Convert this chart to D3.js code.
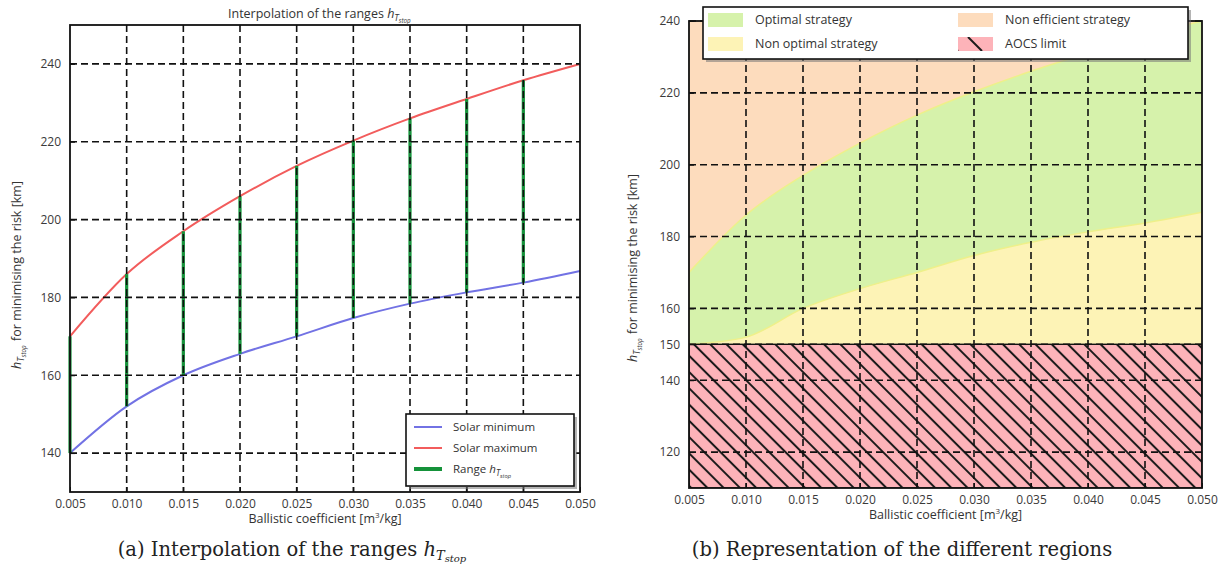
<!DOCTYPE html>
<html>
<head>
<meta charset="utf-8">
<script src="https://cdn.jsdelivr.net/npm/d3@7"></script>
<style>
  body { margin: 0; background: #fff; }
  svg { display: block; }
  .tick text { font-family: "Open Sans", sans-serif; font-size: 12px; fill: #3a3a3a; }
  .lbl { font-family: "Open Sans", sans-serif; font-size: 12.5px; fill: #333; }
  .cap { font-family: "DejaVu Serif", serif; font-size: 19.5px; fill: #222; }
</style>
</head>
<body>
<script>
// data
var betas      = [0.005, 0.010, 0.015, 0.020, 0.025, 0.030, 0.035, 0.040, 0.045, 0.050];
var solarMin   = [140, 152, 160, 165.5, 170, 174.7, 178.4, 181.3, 183.8, 186.8];
var solarMax   = [170, 186, 197, 206, 213.8, 220.3, 226, 231, 235.8, 240];
var rangeIdx   = [0, 1, 2, 3, 4, 5, 6, 7, 8];   // betas with a green range bar
var xTicks     = betas;
var yTicksLeft = [140, 160, 180, 200, 220, 240];
var yTicksRight = [120, 140, 150, 160, 180, 200, 220, 240];
var aocsLimit  = 150;

var svg = d3.select("body").append("svg")
    .attr("width", 1220).attr("height", 570);

var defs = svg.append("defs");
var hatch = defs.append("pattern")
    .attr("id", "hatch")
    .attr("patternUnits", "userSpaceOnUse")
    .attr("width", 11.5).attr("height", 11.5)
    .attr("patternTransform", "rotate(-45)");
hatch.append("rect").attr("width", 11.5).attr("height", 11.5).attr("fill", "#fdb3b9");
hatch.append("line").attr("x1", 5.75).attr("y1", -1).attr("x2", 5.75).attr("y2", 12.5)
    .attr("stroke", "#1a1a1a").attr("stroke-width", 2);

// legend patch: one diagonal stroke on pink
var hatchKey = defs.append("pattern")
    .attr("id", "hatchKey")
    .attr("patternUnits", "objectBoundingBox")
    .attr("width", 1).attr("height", 1);
hatchKey.append("rect").attr("width", 35).attr("height", 14).attr("fill", "#fdb3b9");
hatchKey.append("line").attr("x1", 10).attr("y1", 0).attr("x2", 24).attr("y2", 14)
    .attr("stroke", "#1a1a1a").attr("stroke-width", 2);
hatchKey.append("line").attr("x1", -4).attr("y1", 10).attr("x2", 0).attr("y2", 14)
    .attr("stroke", "#1a1a1a").attr("stroke-width", 2);

var pts = betas.map(function(b, i){ return {b: b, lo: solarMin[i], hi: solarMax[i]}; });

// h_{T_stop} as tspans
function hT(sel, size) {
  sel.append("tspan").attr("font-style", "italic").text("h");
  sel.append("tspan").attr("font-size", size * 0.72).attr("dy", size * 0.25).attr("font-style", "italic").text("T");
  sel.append("tspan").attr("font-size", size * 0.5).attr("dy", size * 0.15).attr("font-style", "italic").text("stop");
  sel.append("tspan").attr("dy", -size * 0.4).text("\u200a");
}

function grid(g, x, y, yTicks, x0, x1, y0, y1) {
  var gg = g.append("g").attr("stroke", "#111").attr("stroke-width", 1.6)
      .attr("stroke-dasharray", "7,4").attr("fill", "none");
  gg.selectAll(".vg").data(xTicks.slice(1, -1)).enter().append("line")
    .attr("x1", function(d){ return x(d); }).attr("x2", function(d){ return x(d); })
    .attr("y1", y0).attr("y2", y1);
  gg.selectAll(".hg").data(yTicks).enter().append("line")
    .attr("y1", function(d){ return y(d); }).attr("y2", function(d){ return y(d); })
    .attr("x1", x0).attr("x2", x1);
}

function axes(g, x, y, yTicks, x0, x1, y0, y1) {
  g.append("g").attr("transform", "translate(0," + y1 + ")")
    .call(d3.axisBottom(x).tickValues(xTicks).tickFormat(d3.format(".3f")).tickSize(-5).tickPadding(7))
    .call(function(a){ a.select(".domain").remove(); a.selectAll("line").attr("stroke", "#111"); });
  g.append("g").attr("transform", "translate(" + x0 + ",0)")
    .call(d3.axisLeft(y).tickValues(yTicks).tickFormat(d3.format("d")).tickSize(-5).tickPadding(9))
    .call(function(a){ a.select(".domain").remove(); a.selectAll("line").attr("stroke", "#111"); });
  g.append("rect").attr("x", x0).attr("y", y0).attr("width", x1 - x0).attr("height", y1 - y0)
    .attr("fill", "none").attr("stroke", "#111").attr("stroke-width", 1.8);
  g.append("text").attr("class", "lbl").attr("x", (x0 + x1) / 2).attr("y", y1 + 31)
    .attr("text-anchor", "middle")
    .call(function(t){
      t.append("tspan").text("Ballistic coefficient [m");
      t.append("tspan").attr("font-size", 8).attr("dy", -5).text("3");
      t.append("tspan").attr("dy", 5).text("/kg]");
    });
}

function legendBox(g, x, y, w, h) {
  g.append("rect").attr("x", x + 3).attr("y", y + 3).attr("width", w).attr("height", h)
    .attr("fill", "#777").attr("opacity", 0.55);
  g.append("rect").attr("x", x).attr("y", y).attr("width", w).attr("height", h)
    .attr("fill", "#fff").attr("stroke", "#111").attr("stroke-width", 1.6);
}

// ---------- left: interpolation of the ranges ----------
(function(){
  var x0 = 70, x1 = 580, y0 = 25, y1 = 492;
  var x = d3.scaleLinear().domain([0.005, 0.05]).range([x0, x1]);
  var y = d3.scaleLinear().domain([130, 250]).range([y1, y0]);
  var g = svg.append("g");

  var lineMin = d3.line().x(function(d){ return x(d.b); }).y(function(d){ return y(d.lo); }).curve(d3.curveMonotoneX);
  var lineMax = d3.line().x(function(d){ return x(d.b); }).y(function(d){ return y(d.hi); }).curve(d3.curveMonotoneX);

  g.append("path").datum(pts).attr("d", lineMin).attr("fill", "none")
    .attr("stroke", "#7272e4").attr("stroke-width", 2);
  g.append("path").datum(pts).attr("d", lineMax).attr("fill", "none")
    .attr("stroke", "#f25c5c").attr("stroke-width", 2);

  g.selectAll(".rng").data(rangeIdx.map(function(i){ return pts[i]; })).enter().append("line")
    .attr("x1", function(d){ return x(d.b); }).attr("x2", function(d){ return x(d.b); })
    .attr("y1", function(d){ return y(d.lo); }).attr("y2", function(d){ return y(d.hi); })
    .attr("stroke", "#15923a").attr("stroke-width", 3.2);

  grid(g, x, y, yTicksLeft, x0, x1, y0, y1);
  axes(g, x, y, yTicksLeft, x0, x1, y0, y1);

  g.append("text").attr("class", "lbl").attr("x", 320).attr("y", 18).attr("text-anchor", "middle")
    .call(function(t){ t.append("tspan").text("Interpolation of the ranges "); hT(t, 12.5); });

  g.append("text").attr("class", "lbl")
    .attr("transform", "translate(21,275) rotate(-90)").attr("text-anchor", "middle")
    .call(function(t){ hT(t, 12.5); t.append("tspan").text(" for minimising the risk [km]"); });

  // legend
  var lx = 406, ly = 414;
  legendBox(g, lx, ly, 168, 72);
  var items = [
    {name: "Solar minimum", color: "#7272e4", w: 2},
    {name: "Solar maximum", color: "#f25c5c", w: 2},
    {name: "Range", color: "#15923a", w: 4}
  ];
  items.forEach(function(it, i){
    var yy = ly + 13 + i * 21;
    g.append("line").attr("x1", lx + 8).attr("x2", lx + 36).attr("y1", yy).attr("y2", yy)
      .attr("stroke", it.color).attr("stroke-width", it.w);
    var t = g.append("text").attr("class", "lbl").attr("x", lx + 47).attr("y", yy + 4).style("font-size", "11.5px");
    t.append("tspan").text(it.name);
    if (i === 2) { t.append("tspan").text(" "); hT(t, 11.5); }
  });

  g.append("text").attr("class", "cap").attr("x", 292).attr("y", 556).attr("text-anchor", "middle")
    .call(function(t){
      t.append("tspan").text("(a) Interpolation of the ranges ");
      t.append("tspan").attr("font-style", "italic").text("h");
      t.append("tspan").attr("font-size", 13).attr("dy", 4).attr("font-style", "italic").text("T");
      t.append("tspan").attr("font-size", 10).attr("dy", 2).attr("font-style", "italic").text("stop");
    });
})();

// ---------- right: representation of the regions ----------
(function(){
  var x0 = 689, x1 = 1202, y0 = 21, y1 = 488;
  var x = d3.scaleLinear().domain([0.005, 0.05]).range([x0, x1]);
  var y = d3.scaleLinear().domain([110, 240]).range([y1, y0]);
  var g = svg.append("g");

  g.append("clipPath").attr("id", "clipR").append("rect")
    .attr("x", x0).attr("y", y0).attr("width", x1 - x0).attr("height", y1 - y0);
  var r = g.append("g").attr("clip-path", "url(#clipR)");

  // non efficient (above upper curve)
  r.append("rect").attr("x", x0).attr("y", y0).attr("width", x1 - x0).attr("height", y(aocsLimit) - y0)
    .attr("fill", "#fddcbd");
  // optimal
  var areaOpt = d3.area().x(function(d){ return x(d.b); })
    .y0(function(d){ return y(Math.max(d.lo, aocsLimit)); })
    .y1(function(d){ return y(d.hi); }).curve(d3.curveMonotoneX);
  // non optimal
  var areaNon = d3.area().x(function(d){ return x(d.b); })
    .y0(y(aocsLimit))
    .y1(function(d){ return y(Math.max(d.lo, aocsLimit)); }).curve(d3.curveMonotoneX);
  r.append("path").datum(pts).attr("d", areaNon).attr("fill", "#fdf3b6");
  r.append("path").datum(pts).attr("d", areaOpt).attr("fill", "#d6f2ab")
    .attr("stroke", "#eef08a").attr("stroke-width", 1.5);
  // AOCS limit
  r.append("rect").attr("x", x0).attr("y", y(aocsLimit)).attr("width", x1 - x0)
    .attr("height", y(110) - y(aocsLimit)).attr("fill", "url(#hatch)")
    .attr("stroke", "#111").attr("stroke-width", 1.4);

  grid(g, x, y, yTicksRight, x0, x1, y0, y1);
  axes(g, x, y, yTicksRight, x0, x1, y0, y1);

  g.append("text").attr("class", "lbl")
    .attr("transform", "translate(637,268) rotate(-90)").attr("text-anchor", "middle")
    .call(function(t){ hT(t, 12.5); t.append("tspan").text(" for minimising the risk [km]"); });

  // legend
  var lx = 703, ly = 7;
  legendBox(g, lx, ly, 485, 52);
  var items = [
    {name: "Optimal strategy", fill: "#d6f2ab", col: 0, row: 0},
    {name: "Non optimal strategy", fill: "#fdf3b6", col: 0, row: 1},
    {name: "Non efficient strategy", fill: "#fddcbd", col: 1, row: 0},
    {name: "AOCS limit", fill: "url(#hatchKey)", col: 1, row: 1}
  ];
  items.forEach(function(it){
    var px = lx + 5 + it.col * 250, py = ly + 6 + it.row * 24;
    g.append("rect").attr("x", px).attr("y", py).attr("width", 35).attr("height", 14).attr("fill", it.fill);
    g.append("text").attr("class", "lbl").attr("x", px + 47).attr("y", py + 11).text(it.name);
  });

  g.append("text").attr("class", "cap").attr("x", 902).attr("y", 556).attr("text-anchor", "middle")
    .text("(b) Representation of the different regions");
})();
</script>
</body>
</html>
